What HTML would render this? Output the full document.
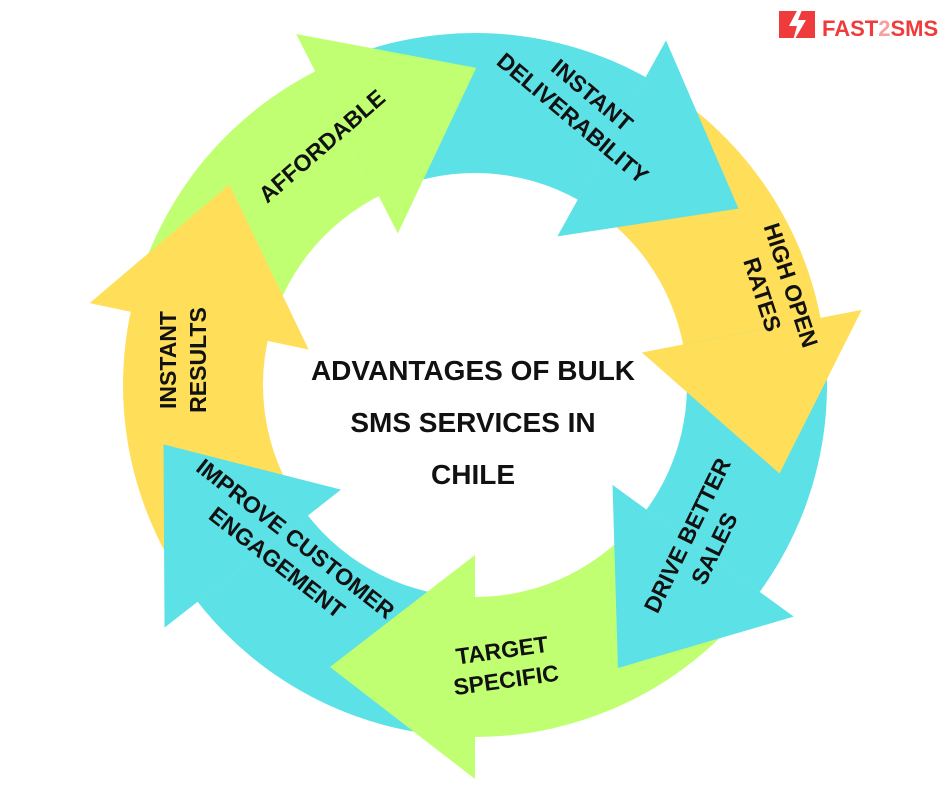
<!DOCTYPE html>
<html><head><meta charset="utf-8"><style>
html,body{margin:0;padding:0;background:#fff;}
body{width:940px;height:788px;overflow:hidden;position:relative;}
svg{position:absolute;left:0;top:0;}
text{font-family:"Liberation Sans",sans-serif;font-weight:bold;fill:#111;}
</style></head><body>
<svg id="s" width="940" height="788" viewBox="0 0 940 788">
<g id="bodies"></g><g id="heads"></g>
<g id="labels" font-size="23" text-anchor="middle">
<text transform="translate(327,152) rotate(-41)">AFFORDABLE</text>
<text transform="translate(578,112) rotate(40)"><tspan x="0" y="-14">INSTANT</tspan><tspan x="0" y="16">DELIVERABILITY</tspan></text>
<text transform="translate(770,292) rotate(72)"><tspan x="0" y="-14">HIGH OPEN</tspan><tspan x="0" y="16">RATES</tspan></text>
<text transform="translate(707,545) rotate(-64)"><tspan x="0" y="-14">DRIVE BETTER</tspan><tspan x="0" y="16">SALES</tspan></text>
<text transform="translate(505,672) rotate(-8)"><tspan x="0" y="-14">TARGET</tspan><tspan x="0" y="16">SPECIFIC</tspan></text>
<text transform="translate(282,556) rotate(38)"><tspan x="0" y="-14">IMPROVE CUSTOMER</tspan><tspan x="0" y="16">ENGAGEMENT</tspan></text>
<text transform="translate(190,360) rotate(-90)"><tspan x="0" y="-14">INSTANT</tspan><tspan x="0" y="16">RESULTS</tspan></text>
</g>
<g font-size="28" text-anchor="middle">
<text x="473" y="380">ADVANTAGES OF BULK</text>
<text x="473" y="432">SMS SERVICES IN</text>
<text x="473" y="484">CHILE</text>
</g>
<g>
<rect x="779" y="11" width="36" height="27" fill="#ef3b3b"/>
<polygon points="800,5 789,26 797,26 792,44 806,20 798,20 804,5" fill="#fff"/>
<text x="822" y="36" font-size="22" style="fill:#ef3b3b">FAST<tspan style="fill:#f7a0a0">2</tspan>SMS</text>
</g>
</svg>
<script>
var cx=475,cy=385,Ri=212,Ro=352,Rm=282,L=145,W=42;
var cols=["#c1ff72","#5ce1e6","#ffde59","#5ce1e6","#c1ff72","#5ce1e6","#ffde59"];
var bases=[333,29,79,126,180,232,282];
function P(a,r){var t=a*Math.PI/180;return [cx+r*Math.sin(t),cy-r*Math.cos(t)];}
var B="",H="",n=bases.length;
for(var i=0;i<n;i++){
 var b=bases[i]+1, s=bases[(i-1+n)%n]; if(s>b) s-=360;
 var d="M"+P(s,Ro)+" A"+Ro+" "+Ro+" 0 0 1 "+P(b,Ro)+" L"+P(b,Ri)+" A"+Ri+" "+Ri+" 0 0 0 "+P(s,Ri)+"Z";
 B+='<path d="'+d+'" fill="'+cols[i]+'"/>';
 var bb=bases[i], t=bb*Math.PI/180, tx=Math.cos(t), ty=Math.sin(t);
 var m=P(bb,Rm), tip=[m[0]+tx*L,m[1]+ty*L];
 var o=P(bb,Ro+W), inn=P(bb,Ri-W);
 H+='<polygon points="'+o+" "+tip+" "+inn+'" fill="'+cols[i]+'"/>';
}
document.getElementById("bodies").innerHTML=B;
document.getElementById("heads").innerHTML=H;
</script>
</body></html>
